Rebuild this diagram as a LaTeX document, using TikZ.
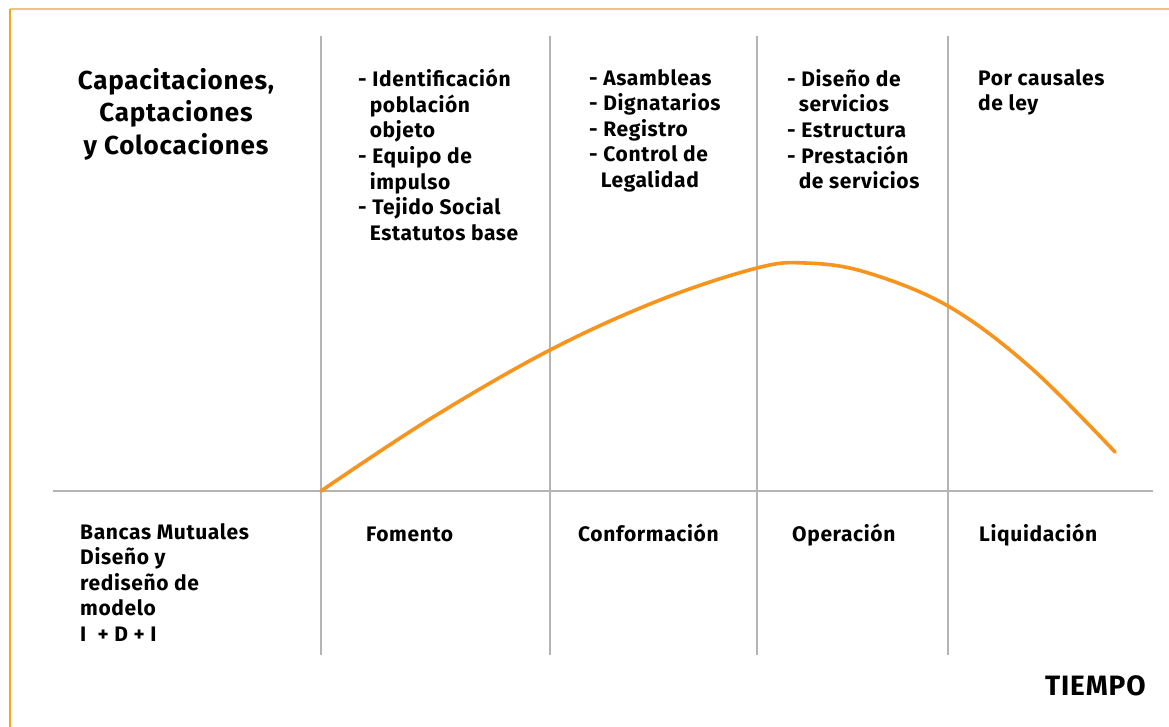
\documentclass[tikz,border=0pt]{standalone}
\usepackage{fontspec}
\setmainfont{Fira Sans}[LetterSpace=3]
\usetikzlibrary{positioning}
\definecolor{marco}{HTML}{F2C27E}
\definecolor{marcoizq}{HTML}{F9A51B}
\definecolor{curvaor}{HTML}{F7941D}
\definecolor{gris}{HTML}{B4B4B4}

\begin{document}
\begin{tikzpicture}[
    x=1pt, y=-1pt,
    eje/.style={draw=gris, line width=2.6pt},
    curva/.style={draw=curvaor, line width=3.6pt, line cap=round},
    texto/.style={anchor=north west, inner sep=0pt, align=left,
    font=\fontsize{21}{25.6}\selectfont\bfseries, execute at begin node=\strut},
    titulo/.style={anchor=north, inner sep=0pt, align=center,
    font=\fontsize{26}{32.5}\selectfont\bfseries}
    ]
\useasboundingbox (0,0) rectangle (1169,727);
\fill[white] (0,0) rectangle (1169,727);
% marco
\draw[marco, line width=2pt] (10,9) -- (1169,9);
\draw[marcoizq, line width=2pt] (10,9) -- (10,727);

% ejes
\coordinate (ejeizq) at (53,491);
\coordinate (ejeder) at (1153,491);
\draw[eje] (ejeizq) -- (ejeder);
\foreach \x [count=\i] in {321,550,757,948}{
    \coordinate (arriba\i) at (\x,36);
    \coordinate (abajo\i) at (\x,655);
    \draw[eje] (arriba\i) -- (abajo\i);
}

% curva
\draw[curva] plot[smooth, tension=0.6] coordinates {
    (321,491) (430,419) (550,350) (660,300) (757,268)
    (805,263) (865,272) (948,306) (1030,367) (1115,452)};

%Upper part
\node[titulo] (capacita) at (176,68) {Capacitaciones,\\ Captaciones\\ y Colocaciones};
\node[texto] (fomentoarr) at (358,69) {- Identificación\\
    \hspace*{0.55em}población\\ \hspace*{0.55em}objeto\\
    - Equipo de\\ \hspace*{0.55em}impulso\\
    - Tejido Social\\ \hspace*{0.55em}Estatutos base};
\node[texto] (conformarr) at (589,69) {- Asambleas\\ - Dignatarios\\
    - Registro\\ - Control de\\ \hspace*{0.55em}Legalidad};
\node[texto] (operarr) at (787,69) {- Diseño de\\ \hspace*{0.55em}servicios\\
    - Estructura\\ - Prestación\\ \hspace*{0.55em}de servicios};
\node[texto] (liquidarr) at (978,69) {Por causales\\ de ley};

%Lower part
\node[texto] (bancas) at (80,523) {Bancas Mutuales\\ Diseño y\\
    rediseño de\\ modelo\\ I \ + D + I};
\node[texto] (fomento) at (366,523) {Fomento};
\node[texto] (conform) at (578,523) {Conformación};
\node[texto] (opera) at (792,523) {Operación};
\node[texto] (liquida) at (979,523) {Liquidación};
\node[texto, font=\fontsize{28}{30}\selectfont\bfseries,
    execute at begin node={}] (tiempo) at (1045,674) {TIEMPO};
\end{tikzpicture}
\end{document}
